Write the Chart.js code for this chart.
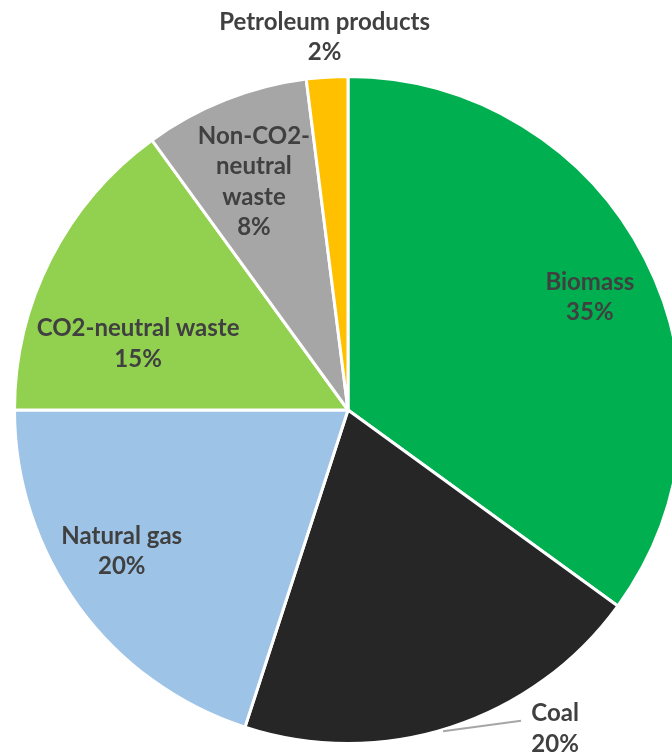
<!DOCTYPE html>
<html>
<head>
<meta charset="utf-8">
<script src="https://cdn.jsdelivr.net/npm/chart.js@4/dist/chart.umd.min.js"></script>
<style>
  html, body { margin: 0; padding: 0; background: #fff; overflow: hidden; }
  #wrap { position: absolute; left: 0; top: 0; width: 696px; height: 756px; }
</style>
</head>
<body>
<div id="wrap"><canvas id="fuelPie"></canvas></div>
<script>
// fuel mix shares, clockwise from 12 o'clock
const labels = ["Biomass", "Coal", "Natural gas", "CO2-neutral waste", "Non-CO2-neutral waste", "Petroleum products"];
const shares = [35, 20, 20, 15, 8, 2];
const colors = ["#00B050", "#262626", "#9DC3E6", "#92D050", "#A6A6A6", "#FFC000"];

// how each label is broken into lines
const labelLines = [
  ["Biomass"],
  ["Coal"],
  ["Natural gas"],
  ["CO2-neutral waste"],
  ["Non-CO2-", "neutral", "waste"],
  ["Petroleum products"]
];
// label placement relative to the slice: radius fraction + angle tweak (deg)
const labelPos = [
  { r: 0.80, da: 2 },
  { r: 1.14, da: -15, leader: true },
  { r: 0.80, da: 4 },
  { r: 0.66, da: -9.5 },
  { r: 0.74, da: -0.8 },
  { r: 1.12, da: 0 }
];

const sliceLabels = {
  id: "sliceLabels",
  afterDatasetsDraw(chart) {
    const ctx = chart.ctx;
    const arcs = chart.getDatasetMeta(0).data;
    ctx.save();
    ctx.font = "bold 24px Lato";
    ctx.fillStyle = "#404040";
    ctx.textBaseline = "middle";
    const lineH = 30.5;

    arcs.forEach((arc, i) => {
      const { x, y, startAngle, endAngle, outerRadius } = arc.getProps(["x", "y", "startAngle", "endAngle", "outerRadius"], true);
      const mid = (startAngle + endAngle) / 2;
      const pos = labelPos[i];
      const a = mid + pos.da * Math.PI / 180;
      const lx = x + Math.cos(a) * outerRadius * pos.r;
      const ly = y + Math.sin(a) * outerRadius * pos.r;
      const lines = labelLines[i].concat([shares[i] + "%"]);

      if (pos.leader) {
        // leader line from the rim to the outside label
        const ex = x + Math.cos(mid) * outerRadius;
        const ey = y + Math.sin(mid) * outerRadius;
        ctx.strokeStyle = "#A6A6A6";
        ctx.lineWidth = 2;
        ctx.beginPath();
        ctx.moveTo(ex - 8, ey + 4);
        ctx.lineTo(lx - 34, ly - 8);
        ctx.stroke();
      }

      ctx.textAlign = "center";
      const top = ly - (lines.length - 1) * lineH / 2;
      lines.forEach((t, k) => ctx.fillText(t, lx, top + k * lineH));
    });
    ctx.restore();
  }
};

new Chart(document.getElementById("fuelPie"), {
  type: "pie",
  data: {
    labels: labels,
    datasets: [{
      data: shares,
      backgroundColor: colors,
      borderColor: "#ffffff",
      borderWidth: 3
    }]
  },
  options: {
    responsive: true,
    maintainAspectRatio: false,
    animation: false,
    layout: { padding: { top: 75, bottom: 11, left: 13, right: 13 } },
    plugins: {
      legend: { display: false },
      tooltip: { enabled: false }
    }
  },
  plugins: [sliceLabels]
});
</script>
</body>
</html>
